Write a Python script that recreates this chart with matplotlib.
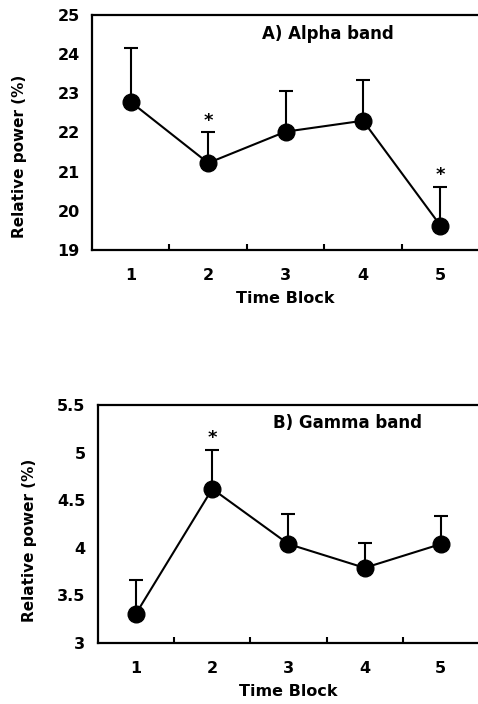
import matplotlib
matplotlib.use("Agg")
from matplotlib import pyplot as plt
import numpy as np

# Data
blocks = [1, 2, 3, 4, 5]
alpha_mean = [22.78, 21.22, 22.02, 22.30, 19.62]
alpha_err = [1.37, 0.78, 1.03, 1.05, 0.98]
alpha_sig = [2, 5]

gamma_mean = [3.31, 4.62, 4.04, 3.79, 4.04]
gamma_err = [0.35, 0.41, 0.32, 0.26, 0.29]
gamma_sig = [2]

plt.rcParams['font.family'] = ['DejaVu Sans']
plt.rcParams['font.weight'] = 'bold'

fig = plt.figure(figsize=(4.78, 7.04), dpi=100)
ax1 = fig.add_axes([0.1925, 0.645, 0.81, 0.3337])
ax2 = fig.add_axes([0.205, 0.0866, 0.797, 0.338])


def draw_panel(ax, mean, err, sig, ylim, yticks, yticklabels, title, title_pos, ylabel_pos):
    ax.errorbar(blocks, mean, yerr=[np.zeros(len(err)), err], fmt='o-', color='black',
                markersize=12, linewidth=1.5, elinewidth=1.5, capsize=5, capthick=1.5,
                zorder=3)
    for b in sig:
        i = blocks.index(b)
        ax.annotate('*', (b, mean[i] + err[i]), xytext=(0, 2), textcoords='offset points',
                    ha='center', va='bottom', fontsize=13, fontweight='bold')
    ax.set_xlim(0.5, 5.5)
    ax.set_ylim(*ylim)
    ax.set_yticks(yticks)
    ax.set_yticklabels(yticklabels)
    ax.set_xticks(blocks)
    ax.set_xticks([1.5, 2.5, 3.5, 4.5], minor=True)
    ax.tick_params(axis='x', which='major', length=0, pad=13, labelsize=11.5)
    ax.tick_params(axis='x', which='minor', length=4, width=1.5, direction='in')
    ax.tick_params(axis='y', length=0, pad=9, labelsize=11.5)
    for s in ['left', 'bottom', 'top']:
        ax.spines[s].set_linewidth(1.6)
    ax.spines['right'].set_visible(False)
    ax.set_xlabel('Time Block', fontsize=11.5, fontweight='bold', labelpad=6)
    ax.set_ylabel('Relative power (%)', fontsize=11, fontweight='bold')
    ax.yaxis.set_label_coords(*ylabel_pos)
    ax.text(title_pos[0], title_pos[1], title, transform=ax.transAxes, fontsize=12,
            fontweight='bold', ha='left', va='center')


draw_panel(ax1, alpha_mean, alpha_err, alpha_sig, (19, 25), [19, 20, 21, 22, 23, 24, 25],
           ['19', '20', '21', '22', '23', '24', '25'], 'A) Alpha band', (0.44, 0.92),
           (-0.168, 0.40))
draw_panel(ax2, gamma_mean, gamma_err, gamma_sig, (3, 5.5), [3, 3.5, 4, 4.5, 5, 5.5],
           ['3', '3.5', '4', '4.5', '5', '5.5'], 'B) Gamma band', (0.46, 0.924),
           (-0.16, 0.43))

fig.savefig('out.png', dpi=100)
